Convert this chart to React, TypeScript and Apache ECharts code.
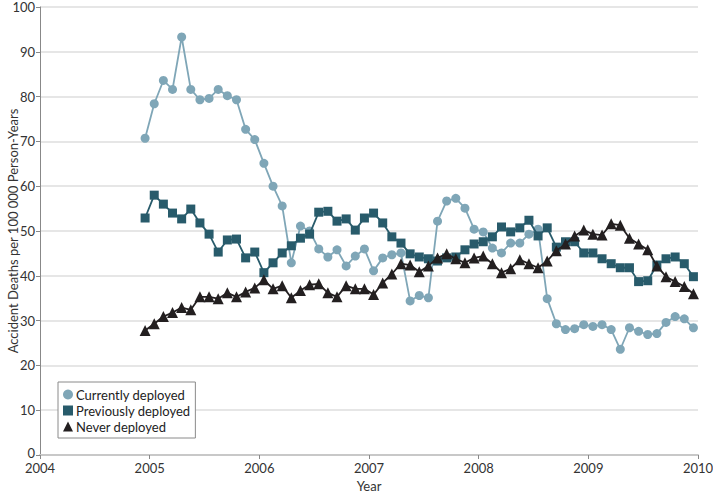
import React, { useEffect, useRef } from "react";
import * as echarts from "echarts";

const seriesNames = ["Currently deployed", "Previously deployed", "Never deployed"];

// 61 monthly points, late 2004 through late 2009
const currentlyDeployed = [
  70.7, 78.4, 83.6, 81.6, 93.3, 81.6, 79.3, 79.6, 81.6, 80.2,
  79.3, 72.7, 70.4, 65.1, 60.0, 55.6, 42.9, 51.1, 50.0, 46.0,
  44.2, 45.8, 42.2, 44.4, 46.0, 41.1, 44.0, 44.7, 45.1, 34.4,
  35.6, 35.1, 52.2, 56.7, 57.3, 55.1, 50.4, 49.8, 46.2, 45.1,
  47.3, 47.3, 49.3, 50.4, 34.9, 29.3, 28.0, 28.2, 29.1, 28.7,
  29.1, 28.0, 23.6, 28.4, 27.6, 26.9, 27.1, 29.6, 30.9, 30.4,
  28.4,
];
const previouslyDeployed = [
  52.9, 58.0, 56.0, 54.0, 52.7, 54.9, 51.8, 49.3, 45.3, 48.0,
  48.2, 44.0, 45.3, 40.7, 42.9, 45.1, 46.7, 48.4, 49.3, 54.2,
  54.4, 52.2, 52.7, 50.2, 52.9, 54.0, 51.8, 48.7, 47.3, 44.9,
  44.2, 43.8, 43.3, 44.0, 44.2, 45.8, 47.1, 47.6, 48.7, 50.9,
  49.8, 50.7, 52.4, 48.9, 50.7, 46.4, 47.6, 47.6, 45.1, 45.1,
  43.8, 42.7, 41.8, 41.8, 38.7, 38.9, 42.4, 43.8, 44.2, 42.7,
  39.8,
];
const neverDeployed = [
  27.8, 29.3, 30.9, 31.8, 32.9, 32.4, 35.3, 35.3, 34.9, 36.2,
  35.3, 36.4, 37.3, 39.1, 37.1, 37.8, 35.1, 36.7, 38.0, 38.2,
  36.2, 35.3, 37.8, 37.1, 37.1, 35.8, 38.4, 40.4, 42.7, 42.4,
  40.9, 42.2, 44.0, 44.9, 43.8, 42.9, 44.0, 44.4, 42.7, 40.7,
  41.6, 43.6, 42.7, 41.8, 43.3, 45.6, 47.1, 48.9, 50.2, 49.3,
  49.1, 51.6, 51.3, 48.4, 47.1, 45.8, 42.2, 39.8, 38.7, 37.6,
  36.0,
];

const startYear = 2004 + 23 / 24; // first monthly point position
const yTicks = { min: 0, max: 100, interval: 10 };
const xTicks = { min: 2004, max: 2010, interval: 1 };

const colors = ["#7fa6b7", "#285b6b", "#231f20"];
const symbols = ["circle", "rect", "triangle"];
const FONT = "Lato, 'Open Sans', sans-serif";

function toPairs(values: number[]) {
  return values.map((v, i) => [startYear + i / 12, v]);
}

export default function App() {
  const ref = useRef<HTMLDivElement>(null);
  useEffect(() => {
    if (!ref.current) return;
    const chart = echarts.init(ref.current, undefined, { renderer: "svg" });
    const allValues = [currentlyDeployed, previouslyDeployed, neverDeployed];
    chart.setOption({
      animation: false,
      backgroundColor: "#ffffff",
      textStyle: { fontFamily: FONT },
      grid: {
        left: 40,
        right: 15,
        top: 7,
        bottom: 39,
        containLabel: false,
        outerBoundsMode: "none",
      },
      legend: {
        left: 58,
        top: 382,
        orient: "vertical",
        backgroundColor: "#ffffff",
        borderColor: "#8a8a8a",
        borderWidth: 1,
        borderRadius: 0,
        padding: [6, 5, 5, 5],
        itemGap: 3,
        itemWidth: 10,
        itemHeight: 10,
        textStyle: { fontFamily: FONT, fontSize: 13, color: "#222", padding: [0, 0, 0, -2] },
        data: seriesNames.map((n, i) => ({ name: n, icon: symbols[i] })),
      },
      xAxis: {
        type: "value",
        min: xTicks.min,
        max: xTicks.max,
        interval: xTicks.interval,
        name: "Year",
        nameLocation: "middle",
        nameGap: 24,
        nameMoveOverlap: false,
        nameTextStyle: { fontFamily: FONT, fontSize: 13, color: "#333" },
        axisLine: { show: true, lineStyle: { color: "#c8c8c8", width: 2 } },
        axisTick: { show: true, length: 4, lineStyle: { color: "#888" } },
        axisLabel: {
          fontFamily: FONT,
          fontSize: 13,
          lineHeight: 12,
          color: "#333",
          margin: 7,
          formatter: (v: number) => String(v),
        },
        splitLine: { show: false },
      },
      yAxis: {
        type: "value",
        min: yTicks.min,
        max: yTicks.max,
        interval: yTicks.interval,
        name: "Accident Deaths per 100 000 Person-Years",
        nameLocation: "middle",
        nameGap: 21,
        nameMoveOverlap: false,
        nameTextStyle: { fontFamily: FONT, fontSize: 13, color: "#333" },
        axisLine: { show: true, lineStyle: { color: "#888", width: 1 } },
        axisTick: { show: true, length: 4, lineStyle: { color: "#888" } },
        axisLabel: {
          fontFamily: FONT,
          fontSize: 13,
          lineHeight: 10,
          color: "#333",
          margin: 5,
          formatter: (v: number) => (v === 0 ? "{z|0}" : String(v)),
          rich: {
            z: { fontFamily: FONT, fontSize: 13, lineHeight: 10, color: "#333", padding: [0, 0, 5, 0] },
          },
        },
        splitLine: { show: true, lineStyle: { color: "#dedede", width: 1.5 } },
      },
      series: seriesNames.map((n, i) => ({
        name: n,
        type: "line",
        data: toPairs(allValues[i]),
        symbol: symbols[i],
        symbolSize: i === 2 ? 11 : 9,
        showSymbol: true,
        color: colors[i],
        lineStyle: { color: colors[i], width: 1.8 },
        itemStyle: { color: colors[i] },
        z: 2 + i,
      })),
    });
    return () => chart.dispose();
  }, []);
  return (
    <div
      ref={ref}
      style={{ position: "fixed", left: 0, top: 0, width: 713, height: 494 }}
    />
  );
}
